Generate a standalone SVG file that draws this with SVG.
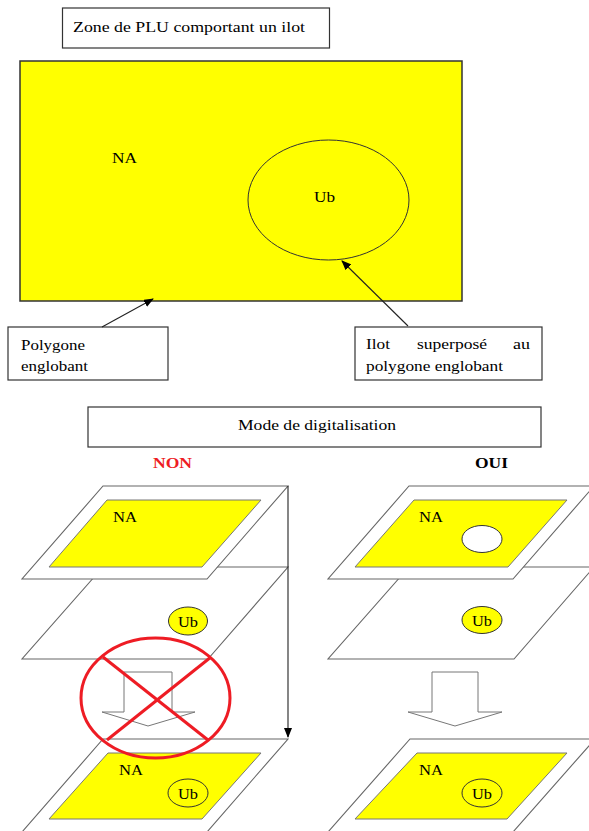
<svg xmlns="http://www.w3.org/2000/svg" width="589" height="831" viewBox="0 0 589 831">
<defs>
<marker id="ah" markerWidth="10" markerHeight="8" refX="9" refY="4" orient="auto" markerUnits="userSpaceOnUse">
<path d="M0,0 L10,4 L0,8 Z" fill="#000"/>
</marker>
<marker id="ahv" markerWidth="8" markerHeight="10" refX="4" refY="9" orient="0" markerUnits="userSpaceOnUse">
<path d="M0,0 L8,0 L4,10 Z" fill="#000"/>
</marker>
</defs>
<style>
text{font-family:'Times New Roman','Liberation Serif','DejaVu Serif',serif;font-size:15px;fill:#000}
.box{fill:#fff;stroke:#333;stroke-width:1.2}
.plane{fill:#fff;stroke:#666;stroke-width:1.1}
.yel{fill:#ffff00;stroke:#777;stroke-width:1}
.ub{fill:#ffff00;stroke:#333;stroke-width:1}
.hole{fill:#fff;stroke:#333;stroke-width:1}
.blk{fill:#fff;stroke:#777;stroke-width:1}
.conn{stroke:#222;stroke-width:1.1;fill:none}
.red{fill:none;stroke:#ee1c24;stroke-width:3}
.b{font-weight:bold}
</style>

<g id="title">
<rect class="box" x="62.5" y="8" width="267" height="40"/>
<text x="73" y="32" textLength="232" lengthAdjust="spacingAndGlyphs">Zone de PLU comportant un ilot</text>
</g>

<g id="zone-na">
<rect x="20" y="61" width="442" height="240" fill="#ffff00" stroke="#333" stroke-width="1.5"/>
<text x="112" y="163" textLength="25" lengthAdjust="spacingAndGlyphs">NA</text>
</g>

<g id="ilot-ub">
<ellipse cx="328.5" cy="200" rx="80.5" ry="60" fill="#ffff00" stroke="#333" stroke-width="1"/>
<text x="314" y="202" textLength="21" lengthAdjust="spacingAndGlyphs">Ub</text>
</g>

<g id="label-polygone">
<rect class="box" x="8" y="327" width="160" height="53"/>
<text x="21" y="350" textLength="64" lengthAdjust="spacingAndGlyphs">Polygone</text>
<text x="21" y="371" textLength="67" lengthAdjust="spacingAndGlyphs">englobant</text>
</g>

<g id="label-ilot">
<rect class="box" x="355" y="327" width="187" height="53"/>
<text x="366" y="349" textLength="24" lengthAdjust="spacingAndGlyphs">Ilot</text>
<text x="417" y="349" textLength="70" lengthAdjust="spacingAndGlyphs">superposé</text>
<text x="513" y="349" textLength="17" lengthAdjust="spacingAndGlyphs">au</text>
<text x="366" y="371" textLength="137" lengthAdjust="spacingAndGlyphs">polygone englobant</text>
</g>

<g id="mode">
<rect class="box" x="88" y="407" width="453" height="40"/>
<text x="238" y="430" textLength="158" lengthAdjust="spacingAndGlyphs">Mode de digitalisation</text>
</g>

<g id="non-label"><text class="b" x="153" y="468" textLength="39" lengthAdjust="spacingAndGlyphs" style="fill:#ee1c24">NON</text></g>
<g id="oui-label"><text class="b" x="475" y="468" textLength="33" lengthAdjust="spacingAndGlyphs">OUI</text></g>

<g id="non-result">
<polygon class="plane" points="103,739 288,739 207,832 22,832"/>
<polygon class="yel" points="108,753 261,753 202,819 49,819"/>
<text x="119" y="775" textLength="24" lengthAdjust="spacingAndGlyphs">NA</text>
<ellipse class="hole" cx="188" cy="793" rx="20" ry="14" style="fill:#ffff00"/>
<text x="178" y="799" textLength="20" lengthAdjust="spacingAndGlyphs">Ub</text>
</g>
<g id="non-flow-arrow">
<polygon class="blk" points="124,672 172,672 172,712 195,712 148,726 102,712 124,712"/>
</g>
<g id="non-layer-ub">
<polygon class="plane" points="103,567 288,567 208,659 22,659"/>
<ellipse class="ub" cx="188" cy="621" rx="19.5" ry="14"/>
<text x="178" y="627" textLength="20" lengthAdjust="spacingAndGlyphs">Ub</text>
</g>
<g id="non-layer-na">
<polygon class="plane" points="103,486 288,486 207,579 22,579"/>
<polygon class="yel" points="107,500 261,500 202,567 49,567"/>
<text x="113" y="522" textLength="24" lengthAdjust="spacingAndGlyphs">NA</text>
</g>

<g id="oui-result">
<polygon class="plane" points="410,739 595,739 513,832 328,832"/>
<polygon class="yel" points="417,753 567,753 507,819 355,819"/>
<text x="419" y="775" textLength="24" lengthAdjust="spacingAndGlyphs">NA</text>
<ellipse class="hole" cx="482" cy="793" rx="20" ry="14" style="fill:#ffff00"/>
<text x="472" y="799" textLength="20" lengthAdjust="spacingAndGlyphs">Ub</text>
</g>
<g id="oui-flow-arrow">
<polygon class="blk" points="432,672 478,672 478,712 502,712 455,726 408,712 432,712"/>
</g>
<g id="oui-layer-ub">
<polygon class="plane" points="409,567 594,567 514,659 328,659"/>
<ellipse class="ub" cx="482" cy="620" rx="20" ry="13.5"/>
<text x="472" y="626" textLength="20" lengthAdjust="spacingAndGlyphs">Ub</text>
</g>
<g id="oui-layer-na">
<polygon class="plane" points="409,486 594,486 513,579 328,579"/>
<polygon class="yel" points="414,500 567,500 508,567 355,567"/>
<ellipse class="hole" cx="482" cy="539" rx="20" ry="13.5"/>
<text x="419" y="522" textLength="24" lengthAdjust="spacingAndGlyphs">NA</text>
</g>

<g id="connectors">
<line class="conn" x1="102" y1="327" x2="153" y2="299" marker-end="url(#ah)"/>
<line class="conn" x1="408" y1="326" x2="342" y2="261" marker-end="url(#ah)"/>
<line class="conn" x1="288" y1="486" x2="288" y2="737" marker-end="url(#ahv)"/>
</g>

<g id="forbidden">
<ellipse class="red" cx="155.5" cy="698" rx="74.5" ry="60"/>
<line class="red" x1="103" y1="657" x2="208" y2="740"/>
<line class="red" x1="211" y1="657" x2="107" y2="740"/>
</g>
</svg>
